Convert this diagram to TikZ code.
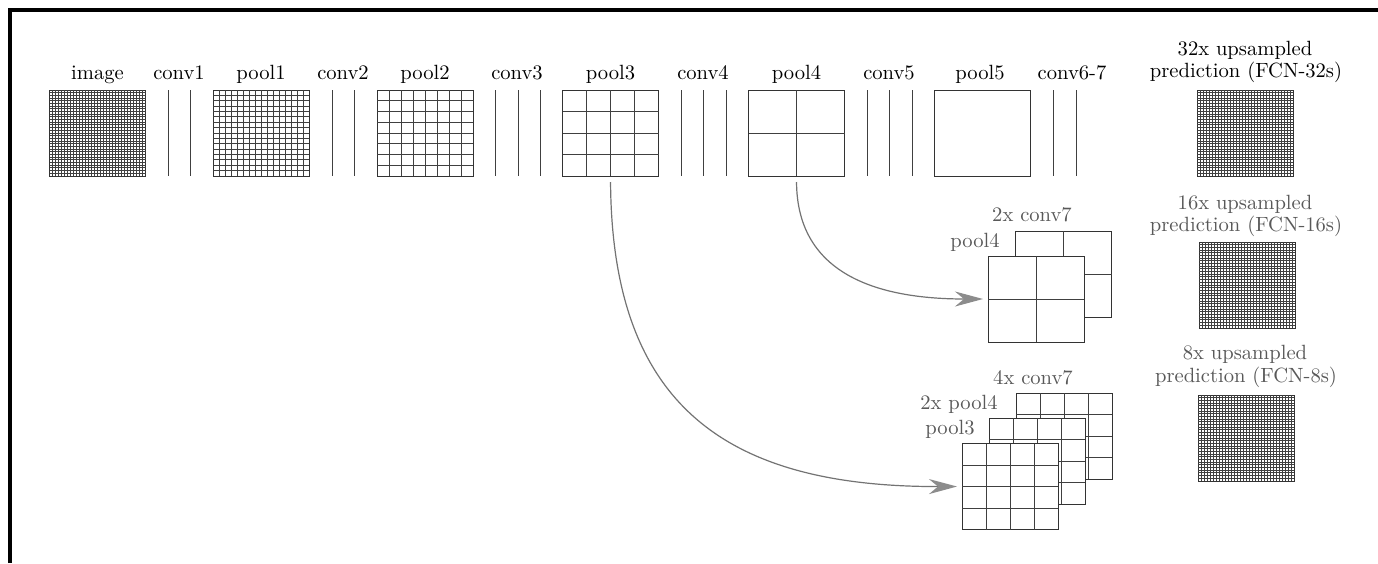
\documentclass[tikz,border=0pt]{standalone}
\usetikzlibrary{calc,arrows.meta}
\tikzset{
  lbl/.style={font=\fontsize{10.3}{12}\selectfont, anchor=base, inner sep=0pt},
  glbl/.style={lbl, text=black!65},
  gbox/.style={draw=black!80, line width=0.5pt, fill=white, inner sep=0pt, outer sep=0pt,
               minimum width=48pt, minimum height=43pt},
  gline/.style={draw=black!75, line width=0.45pt},
  convline/.style={draw=black!75, line width=0.5pt},
  skip/.style={draw=black!55, line width=0.6pt,
               -{Stealth[length=14pt,width=7.5pt,inset=4.5pt,color=black!45]},
               shorten <=3pt, shorten >=2.5pt},
  frame/.style={line width=1.6pt}
}
\newcommand\gridbox[4]{%
  \node[gbox] (#1) at (#2,#3) {};
  \pgfmathtruncatemacro\gbm{#4-1}%
  \foreach \k in {1,...,\gbm}{%
    \draw[gline] ($(#1.north west)!{\k/#4}!(#1.north east)$) -- ($(#1.south west)!{\k/#4}!(#1.south east)$);
    \draw[gline] ($(#1.north west)!{\k/#4}!(#1.south west)$) -- ($(#1.north east)!{\k/#4}!(#1.south east)$);
  }%
}
\begin{document}
\begin{tikzpicture}[x=0.5pt,y=-0.5pt]
\useasboundingbox (0,0) rectangle (1378,563);
\fill[white] (0,0) rectangle (1378,563);
% frame
\draw[frame] (10,563) -- (10,10) -- (1378,10);

% top row
\gridbox{img}{97.5}{133}{32}
\gridbox{pool1}{261}{133}{16}
\gridbox{pool2}{425}{133}{8}
\gridbox{pool3}{610.5}{133}{4}
\gridbox{pool4}{796.5}{133}{2}
\node[gbox] (pool5) at (982,133) {};
\gridbox{out32}{1245}{133}{32}

% conv layers
\foreach \x in {168,190, 332,354, 495,518,540, 681,703,726, 867,889,912, 1053,1076}
  \draw[convline] (\x,90) -- (\x,176);

% top labels
\node[lbl] (limg) at (97.5,79) {image};
\node[lbl] (lc1) at (179,79) {conv1};
\node[lbl] (lp1) at (261,79) {pool1};
\node[lbl] (lc2) at (343,79) {conv2};
\node[lbl] (lp2) at (425,79) {pool2};
\node[lbl] (lc3) at (517,79) {conv3};
\node[lbl] (lp3) at (610.5,79) {pool3};
\node[lbl] (lc4) at (703,79) {conv4};
\node[lbl] (lp4) at (796.5,79) {pool4};
\node[lbl] (lc5) at (889,79) {conv5};
\node[lbl] (lp5) at (980,79) {pool5};
\node[lbl] (lc67) at (1072,79) {conv6-7};
\node[lbl] (l32a) at (1245,55) {32x upsampled};
\node[lbl] (l32b) at (1246,77) {prediction (FCN-32s)};

% FCN-16s
\gridbox{b16}{1063.5}{274}{2}
\gridbox{f16}{1036}{299}{2}
\node[glbl] (l16c) at (1032,221) {2x conv7};
\node[glbl] (l16p) at (975,247) {pool4};
\gridbox{out16}{1247}{285}{32}
\node[glbl] (l16a) at (1245,209) {16x upsampled};
\node[glbl] (l16b) at (1246,231) {prediction (FCN-16s)};

% FCN-8s
\gridbox{b8}{1064}{436}{4}
\gridbox{m8}{1037}{461}{4}
\gridbox{f8}{1010}{486.5}{4}
\node[glbl] (l8c) at (1033,384) {4x conv7};
\node[glbl] (l8m) at (959,409) {2x pool4};
\node[glbl] (l8p) at (950,434) {pool3};
\gridbox{out8}{1246}{438}{32}
\node[glbl] (l8a) at (1245,359) {8x upsampled};
\node[glbl] (l8b) at (1246,382) {prediction (FCN-8s)};

% skip connections
\draw[skip] (pool4.south) .. controls (797,270) and (870,299) .. (f16.west);
\draw[skip] (pool3.south) .. controls (612,400) and (720,487) .. (f8.west);
\end{tikzpicture}
\end{document}
